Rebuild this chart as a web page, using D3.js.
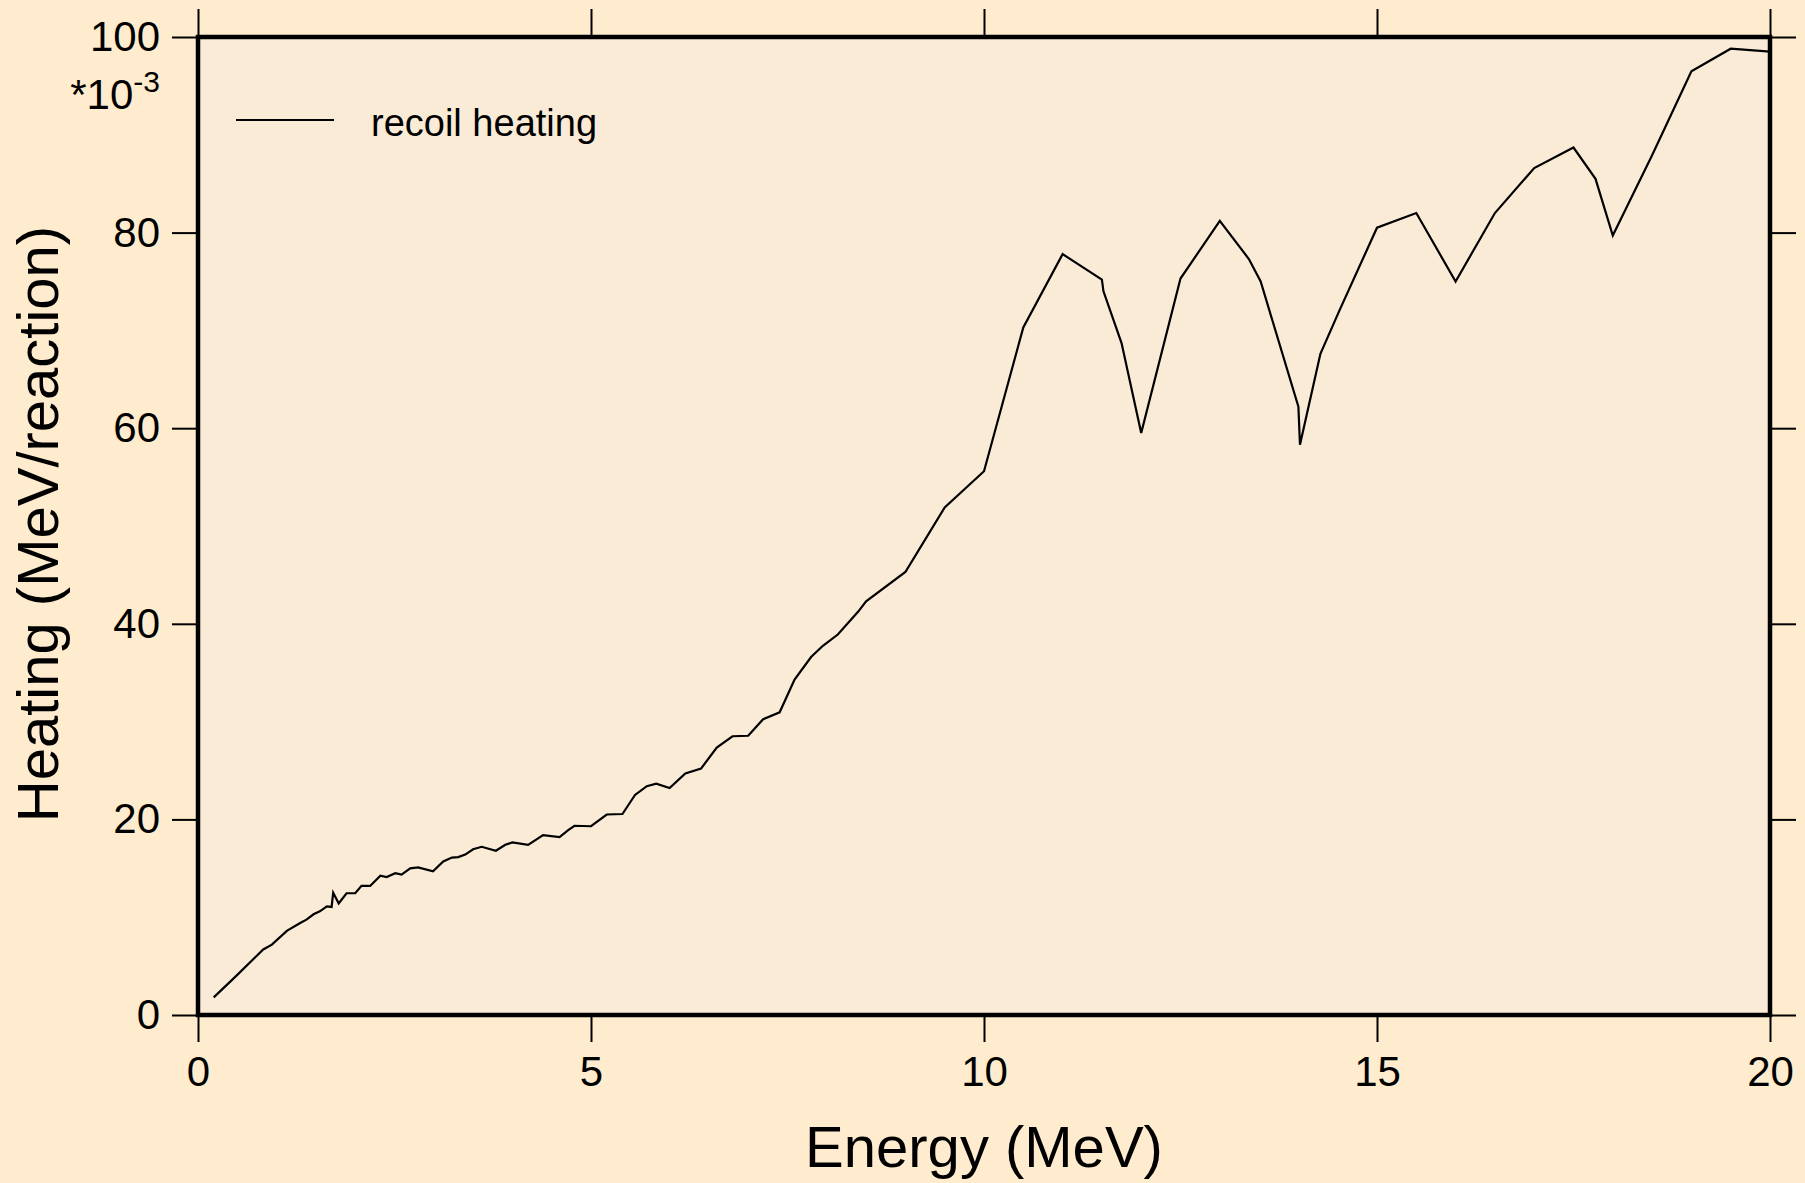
<!DOCTYPE html>
<html>
<head>
<meta charset="utf-8">
<script src="https://cdn.jsdelivr.net/npm/d3@7"></script>
<style>
  html, body { margin: 0; padding: 0; background: #FFEBCD; }
  svg text { font-family: "Liberation Sans", Arial, Helvetica, sans-serif; fill: #000; }
</style>
</head>
<body>
<svg id="chart"></svg>
<script>
const width = 1805;
const height = 1183;

// energy (MeV) and recoil heating (MeV/reaction, *10^-3)
const energy = [0.2, 0.5, 0.83, 0.94, 1.13, 1.3, 1.38, 1.47, 1.55, 1.64, 1.7, 1.72, 1.79, 1.89, 2.0,
    2.08, 2.19, 2.32, 2.4, 2.51, 2.59, 2.7, 2.8, 2.99, 3.12, 3.23, 3.31, 3.4, 3.5, 3.61,
    3.79, 3.91, 4.0, 4.2, 4.39, 4.6, 4.71, 4.79, 5.0, 5.2, 5.4, 5.56, 5.71, 5.83, 6.0,
    6.2, 6.4, 6.6, 6.8, 7.0, 7.19, 7.4, 7.59, 7.8, 7.95, 8.14, 8.4, 8.5, 9.0, 9.5,
    10.0, 10.5, 11.0, 11.5, 11.52, 11.75, 12.0, 12.5, 13.0, 13.37, 13.52, 14.0, 14.02, 14.28, 14.52,
    15.0, 15.5, 16.0, 16.5, 17.0, 17.5, 17.78, 18.0, 18.5, 19.0, 19.5, 20.0];
const heating = [1.8, 4.1, 6.7, 7.2, 8.6, 9.4, 9.75, 10.3, 10.6, 11.1, 11.05, 12.5, 11.4, 12.45, 12.45,
    13.2, 13.2, 14.25, 14.1, 14.5, 14.35, 15.0, 15.1, 14.7, 15.7, 16.1, 16.15, 16.4, 16.95, 17.2,
    16.8, 17.4, 17.65, 17.4, 18.4, 18.2, 18.9, 19.35, 19.3, 20.5, 20.55, 22.5, 23.4, 23.65, 23.2,
    24.7, 25.2, 27.35, 28.5, 28.55, 30.25, 30.95, 34.3, 36.6, 37.75, 38.9, 41.25, 42.3, 45.3, 51.9,
    55.6, 70.3, 77.8, 75.2, 74.0, 68.7, 59.5, 75.3, 81.2, 77.3, 75.0, 62.2, 58.3, 67.6, 72.0,
    80.5, 82.0, 75.0, 82.0, 86.6, 88.7, 85.5, 79.7, 87.9, 96.5, 98.8, 98.5];

const xTicks = [0, 5, 10, 15, 20];
const yTicks = [0, 20, 40, 60, 80, 100];
const seriesName = "recoil heating";

const margin = {top: 37, right: 35, bottom: 168, left: 198};
const plotW = width - margin.left - margin.right;
const plotH = height - margin.top - margin.bottom;

const svg = d3.select("#chart")
    .attr("width", width)
    .attr("height", height);

svg.append("rect")
    .attr("width", width)
    .attr("height", height)
    .attr("fill", "#FFEBCD");

const x = d3.scaleLinear().domain([0, 20]).range([0, plotW]);
const y = d3.scaleLinear().domain([0, 100]).range([plotH, 0]);

const g = svg.append("g")
    .attr("transform", `translate(${margin.left},${margin.top})`);

g.append("rect")
    .attr("width", plotW)
    .attr("height", plotH)
    .attr("fill", "#FAEBD7");

// curve
const points = energy.map((e, i) => [e, heating[i]]);
const line = d3.line()
    .x(d => x(d[0]))
    .y(d => y(d[1]));

g.append("path")
    .datum(points)
    .attr("d", line)
    .attr("fill", "none")
    .attr("stroke", "#000")
    .attr("stroke-width", 2.2)
    .attr("stroke-linejoin", "miter");

// axes, ticks pointing outward
function styleAxis(sel, fontSize) {
    sel.select(".domain").remove();
    sel.selectAll(".tick line").attr("stroke", "#000").attr("stroke-width", 2);
    sel.selectAll(".tick text")
        .attr("font-size", fontSize)
        .attr("font-family", "Liberation Sans, Arial, sans-serif")
        .attr("fill", "#000");
}

g.append("g")
    .attr("transform", `translate(0,${plotH})`)
    .call(d3.axisBottom(x).tickValues(xTicks).tickSize(27).tickPadding(14).tickFormat(d3.format("d")))
    .call(s => styleAxis(s, 42));

g.append("g")
    .call(d3.axisTop(x).tickValues(xTicks).tickSize(28).tickFormat(""))
    .call(s => styleAxis(s, 42));

g.append("g")
    .call(d3.axisLeft(y).tickValues(yTicks).tickSize(26).tickPadding(12).tickFormat(d3.format("d")))
    .call(s => styleAxis(s, 42));

g.append("g")
    .attr("transform", `translate(${plotW},0)`)
    .call(d3.axisRight(y).tickValues(yTicks).tickSize(26).tickFormat(""))
    .call(s => styleAxis(s, 42));

// frame
g.append("rect")
    .attr("width", plotW)
    .attr("height", plotH)
    .attr("fill", "none")
    .attr("stroke", "#000")
    .attr("stroke-width", 4.5);

// exponent under the top label
const expo = g.append("text")
    .attr("x", -38)
    .attr("y", y(100) + 72)
    .attr("text-anchor", "end")
    .attr("font-size", 42);
expo.append("tspan").text("*10");
expo.append("tspan")
    .attr("dy", -17)
    .attr("font-size", 30)
    .text("-3");

// legend
g.append("line")
    .attr("x1", 38).attr("x2", 136)
    .attr("y1", 83).attr("y2", 83)
    .attr("stroke", "#000")
    .attr("stroke-width", 2);
g.append("text")
    .attr("x", 173)
    .attr("y", 99)
    .attr("font-size", 38)
    .text(seriesName);

// axis titles
svg.append("text")
    .attr("x", margin.left + plotW / 2)
    .attr("y", 1167)
    .attr("text-anchor", "middle")
    .attr("font-size", 58)
    .text("Energy (MeV)");

svg.append("text")
    .attr("transform", `translate(58,${margin.top + plotH / 2 - 2}) rotate(-90)`)
    .attr("text-anchor", "middle")
    .attr("font-size", 58)
    .text("Heating (MeV/reaction)");
</script>
</body>
</html>
